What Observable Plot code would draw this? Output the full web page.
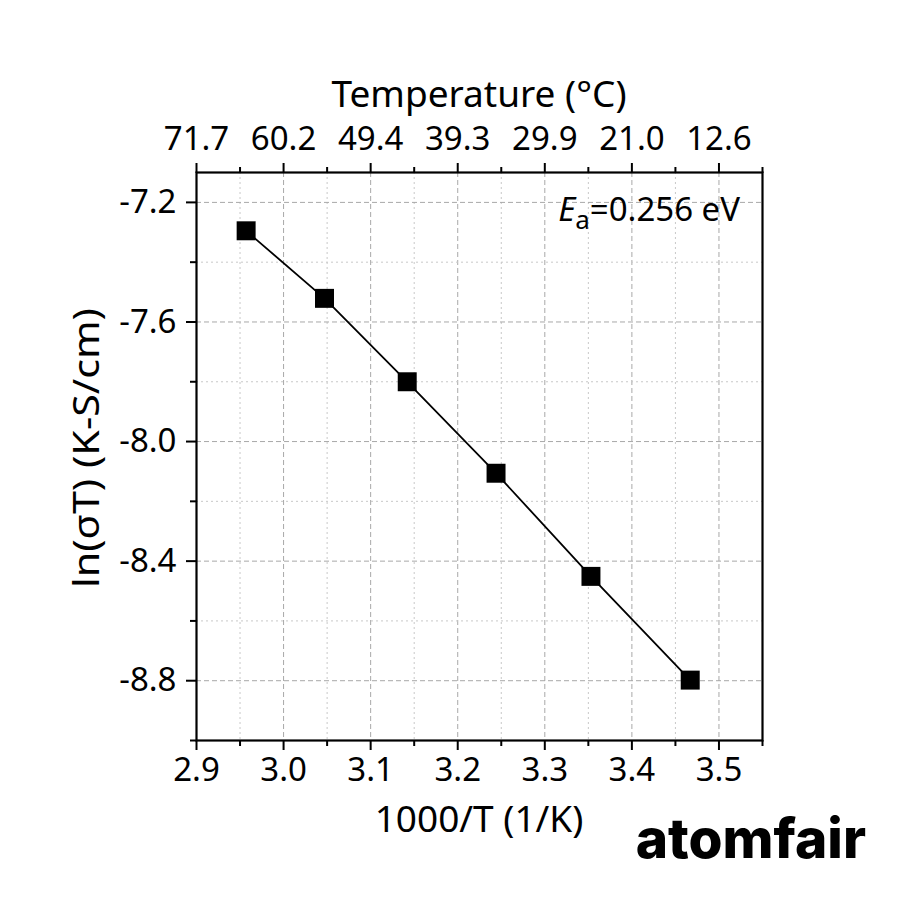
<!DOCTYPE html>
<html><head><meta charset="utf-8">
<script src="https://cdn.jsdelivr.net/npm/d3@7"></script>
<script src="https://cdn.jsdelivr.net/npm/@observablehq/plot@0.6"></script>
<style>body{margin:0;background:#fff}#wrap{width:900px;height:900px}</style>
</head><body><div id="wrap"></div>
<script>
const invT = [2.957, 3.047, 3.142, 3.244, 3.353, 3.467];
const lnSigmaT = [-7.295, -7.521, -7.800, -8.106, -8.451, -8.798];
const xMajorTicks = [2.9, 3.0, 3.1, 3.2, 3.3, 3.4, 3.5];
const xMinorTicks = [2.95, 3.05, 3.15, 3.25, 3.35, 3.45, 3.55];
const xTickLabels = ["2.9", "3.0", "3.1", "3.2", "3.3", "3.4", "3.5"];
const topTickLabels = ["71.7", "60.2", "49.4", "39.3", "29.9", "21.0", "12.6"];
const yMajorTicks = [-7.2, -7.6, -8.0, -8.4, -8.8];
const yMinorTicks = [-7.4, -7.8, -8.2, -8.6, -9.0];
const yTickLabels = ["-7.2", "-7.6", "-8.0", "-8.4", "-8.8"];
const xTitle = "1000/T (1/K)";
const topTitle = "Temperature (°C)";
const yTitle = "ln(σT) (K-S/cm)";
const eaValue = "=0.256 eV";
const logo = "atomfair";

const data = invT.map((x, i) => ({x, y: lnSigmaT[i]}));
const W = 900, H = 900, mL = 196, mR = 138, mT = 172, mB = 160;
const font = "Noto Sans";
const tickFs = 33;

const chart = Plot.plot({
  width: W, height: H,
  marginLeft: mL, marginRight: mR, marginTop: mT, marginBottom: mB,
  style: {fontFamily: font, background: "white", color: "black"},
  x: {domain: [2.9, 3.55]},
  y: {domain: [-9.0, -7.1]},
  marks: [
    Plot.gridX(xMinorTicks.slice(0, -1), {stroke: "#c8c8c8", strokeOpacity: 1, strokeDasharray: "2,3", strokeWidth: 1}),
    Plot.gridX(xMajorTicks.slice(1), {stroke: "#a8a8a8", strokeOpacity: 1, strokeDasharray: "5,3", strokeWidth: 1}),
    Plot.gridY(yMinorTicks.slice(0, -1), {stroke: "#c8c8c8", strokeOpacity: 1, strokeDasharray: "2,3", strokeWidth: 1}),
    Plot.gridY(yMajorTicks, {stroke: "#a8a8a8", strokeOpacity: 1, strokeDasharray: "5,3", strokeWidth: 1}),
    Plot.axisX(xMajorTicks, {anchor: "bottom", tickSize: 10, tickPadding: 7, strokeWidth: 2, fontSize: tickFs, label: null,
      tickFormat: d => xTickLabels[xMajorTicks.indexOf(d)]}),
    Plot.axisX(xMinorTicks, {anchor: "bottom", tickSize: 6, strokeWidth: 2, label: null, tickFormat: () => ""}),
    Plot.axisX(xMajorTicks, {anchor: "top", tickSize: 10, tickPadding: 13, strokeWidth: 2, fontSize: tickFs, label: null,
      tickFormat: d => topTickLabels[xMajorTicks.indexOf(d)]}),
    Plot.axisX(xMinorTicks, {anchor: "top", tickSize: 6, strokeWidth: 2, label: null, tickFormat: () => ""}),
    Plot.axisY(yMajorTicks, {anchor: "left", tickSize: 10, tickPadding: 10, strokeWidth: 2, fontSize: tickFs, label: null,
      tickFormat: d => yTickLabels[yMajorTicks.indexOf(d)]}),
    Plot.axisY(yMinorTicks, {anchor: "left", tickSize: 6, strokeWidth: 2, label: null, tickFormat: () => ""}),
    Plot.frame({stroke: "black", strokeWidth: 2.2}),
    Plot.line(data, {x: "x", y: "y", stroke: "black", strokeWidth: 1.8}),
    Plot.dot(data, {x: "x", y: "y", symbol: "square", r: 10.7, fill: "black", stroke: "none"})
  ]
});

document.getElementById("wrap").appendChild(chart);
const svg = d3.select(chart);
const cx = mL + (W - mL - mR) / 2;
const cy = mT + (H - mT - mB) / 2;

svg.append("text").attr("x", cx).attr("y", H - mB + 92).attr("text-anchor", "middle")
  .attr("font-family", font).attr("font-size", 37).attr("fill", "black").text(xTitle);
svg.append("text").attr("x", cx).attr("y", mT - 65).attr("text-anchor", "middle")
  .attr("font-family", font).attr("font-size", 37).attr("fill", "black").text(topTitle);
svg.append("text").attr("transform", `translate(${mL - 110},${cy - 8}) rotate(-90)`).attr("text-anchor", "middle")
  .attr("dy", "0.35em").attr("textLength", 280).attr("lengthAdjust", "spacingAndGlyphs")
  .attr("font-family", font).attr("font-size", 37).attr("fill", "black").text(yTitle);

const ea = svg.append("text").attr("x", W - mR - 22).attr("y", mT + 49).attr("text-anchor", "end")
  .attr("font-family", font).attr("font-size", 33).attr("fill", "black");
ea.append("tspan").attr("font-style", "italic").text("E");
ea.append("tspan").attr("font-size", 26).attr("dy", 8).text("a");
ea.append("tspan").attr("dy", -8).text(eaValue);

svg.append("text").attr("x", 866).attr("y", 858).attr("text-anchor", "end")
  .attr("font-family", "Inter").attr("font-weight", 800).attr("font-size", 55).attr("fill", "black").text(logo);
</script>
</body></html>
